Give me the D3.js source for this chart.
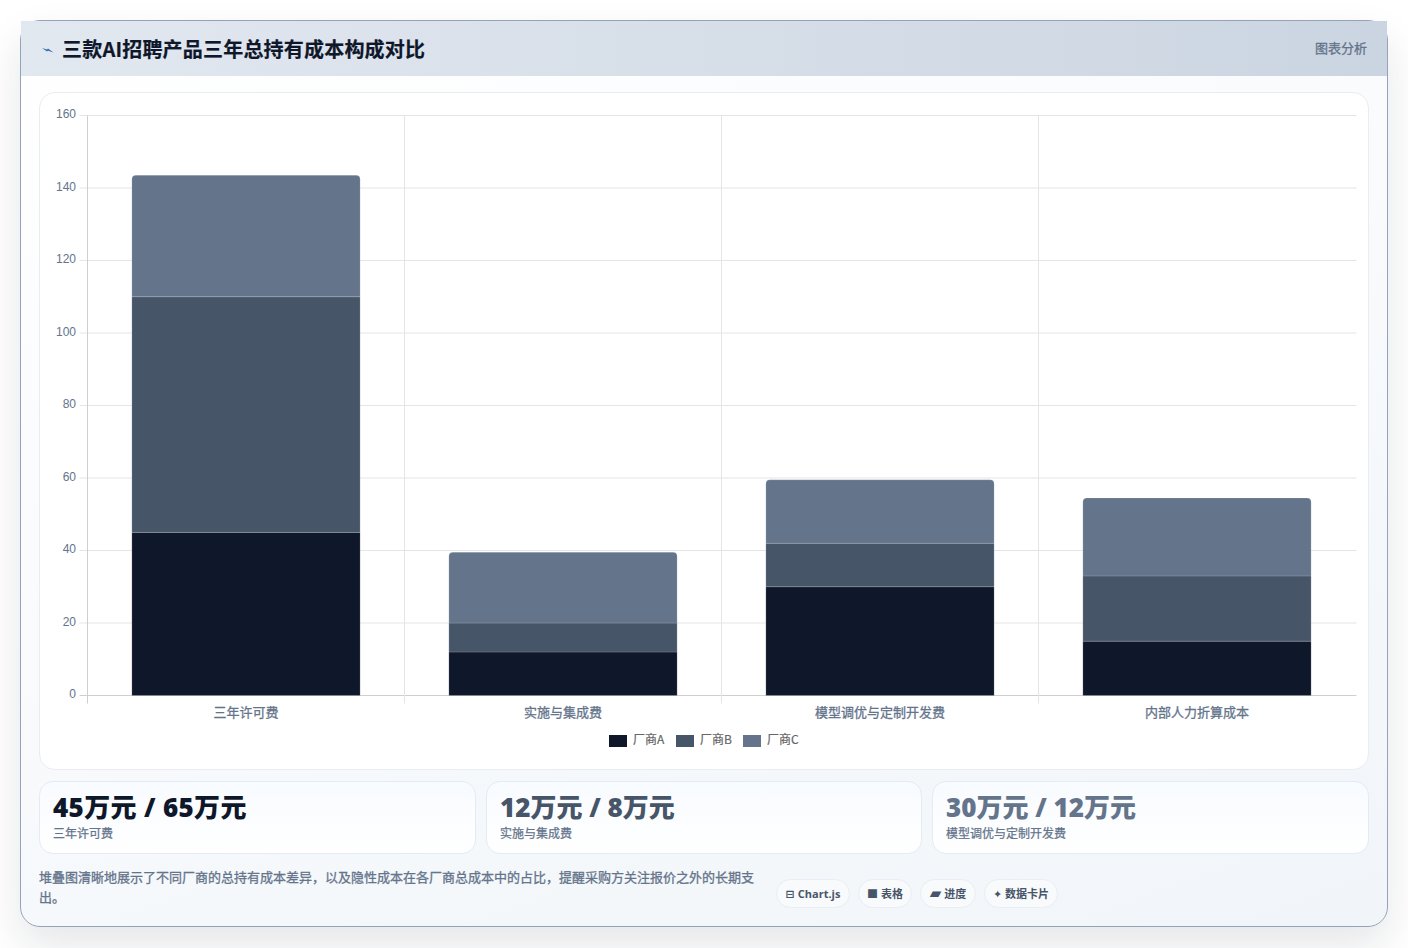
<!DOCTYPE html>
<html lang="zh-CN">
<head>
<meta charset="utf-8">
<title>三款AI招聘产品三年总持有成本构成对比</title>
<script src="https://cdn.jsdelivr.net/npm/d3@7/dist/d3.min.js"></script>
<style>
  * { box-sizing: border-box; margin: 0; padding: 0; }
  html, body { width: 1408px; height: 948px; overflow: hidden; background: #fff;
    font-family: "Noto Sans CJK SC", "DejaVu Sans", sans-serif; }
  #card { position: absolute; left: 20px; top: 20px; width: 1368px; height: 907px;
    border: 1px solid #94a3b8; border-radius: 20px;
    background: linear-gradient(160deg, #ffffff 0%, #f1f5f9 100%);
    box-shadow: 0 18px 40px rgba(15,23,42,0.11); }
  #head { position: absolute; left: 0; top: 0; width: 1366px; height: 55px;
    background: linear-gradient(90deg, #e2e8f0 0%, #cbd5e1 100%); }
  #title { position: absolute; left: 41px; top: 13px; font-size: 20px; line-height: 30px;
    font-weight: 700; letter-spacing: 0.2px; color: #0f172a; white-space: nowrap; -webkit-text-stroke: 0.2px #0f172a; }
  #spark { position: absolute; left: 21px; top: 27px; }
  #tag { position: absolute; right: 20px; top: 17px; font-size: 13px; line-height: 20px;
    color: #64748b; -webkit-text-stroke: 0.3px #64748b; }
  #panel { position: absolute; left: 18px; top: 71px; width: 1330px; height: 678px; background: #fff;
    border: 1px solid #e8edf3; border-radius: 16px; }
  .stat { position: absolute; top: 760px; height: 73px; background: linear-gradient(180deg,#f8fbff,#ffffff);
    border: 1px solid #e3ebf6; border-radius: 14px; }
  .stat b { position: absolute; left: 13px; top: 7px; font-size: 26px; line-height: 36px; font-weight: 800;
    font-family: "Open Sans", "Noto Sans CJK SC", sans-serif; white-space: nowrap; }
  .stat span { position: absolute; left: 13px; top: 42px; font-size: 12px; line-height: 18px; color: #64748b;
    -webkit-text-stroke: 0.25px #64748b; }
  #note { position: absolute; left: 18px; top: 846px; width: 722px; font-size: 13px; line-height: 20px;
    color: #64748b; -webkit-text-stroke: 0.3px #64748b; }
  .pill { position: absolute; top: 858px; height: 29px; border: 1px solid #e8eef5; border-radius: 14.5px;
    background: #f8fafc; font-size: 11px; line-height: 27px; font-weight: 600; color: #334155;
    text-align: center; white-space: nowrap; }
  .pill i { font-style: normal; line-height: 1; margin-right: 3px; color: #475569; }
  .pill em { font-style: normal; font-family: "Open Sans", "Noto Sans CJK SC", sans-serif; font-weight: 700; color: #475569; }
  svg text { font-family: "Liberation Sans", "Noto Sans CJK SC", sans-serif; }
</style>
</head>
<body>
<div id="card">
  <div id="head"></div>
  <svg id="spark" width="12" height="5" viewBox="0 0 12 5"><path d="M0 0 L5 1.5 L6 .5 L11.5 4.5 L6 2.7 L5 3.5 Z" fill="#3b6fb5"/></svg>
  <div id="title"></div>
  <div id="tag">图表分析</div>
  <div id="panel"></div>
  <div id="stats"></div>
  <div id="note"></div>
  <div id="pills"></div>
</div>
<svg id="chart" width="1408" height="948" style="position:absolute;left:0;top:0"></svg>
<script>
// Cost categories and vendor figures, in units of 万元
const categories = ["三年许可费", "实施与集成费", "模型调优与定制开发费", "内部人力折算成本"];
const vendors = ["厂商A", "厂商B", "厂商C"];
const vendorA = [45, 12, 30, 15];
const vendorB = [65, 8, 12, 18];
const vendorC = [33.5, 19.5, 17.5, 21.5];
const vendorColors = ["#0f172a", "#475569", "#64748b"];
const yTicks = [0, 20, 40, 60, 80, 100, 120, 140, 160];

const titleText = "三款AI招聘产品三年总持有成本构成对比";
const noteText = "堆叠图清晰地展示了不同厂商的总持有成本差异，以及隐性成本在各厂商总成本中的占比，提醒采购方关注报价之外的长期支出。";
const statValues = ["45万元 / 65万元", "12万元 / 8万元", "30万元 / 12万元"];
const statLabels = ["三年许可费", "实施与集成费", "模型调优与定制开发费"];
const statColors = ["#0f172a", "#475569", "#64748b"];
const pillIcons = ["⊟", "■", "▰", "✦"];
const pillLabels = ["Chart.js", "表格", "进度", "数据卡片"];

d3.select("#title").text(titleText);
d3.select("#note").text(noteText);

// Summary cards under the chart
const statLeft = [18, 465, 911];
const statWidth = [437, 436, 437];
const statTracking = [0.35, 0, 0];
const stats = d3.select("#stats").selectAll("div").data(statValues).join("div")
  .attr("class", "stat")
  .style("left", (d, i) => statLeft[i] + "px")
  .style("width", (d, i) => statWidth[i] + "px");
stats.append("b").text(d => d)
  .style("color", (d, i) => statColors[i])
  .style("letter-spacing", (d, i) => statTracking[i] + "px");
stats.append("span").text((d, i) => statLabels[i]);

// Technology pills in the footer
const pillLeft = [755, 837, 899, 963];
const pillWidth = [74, 54, 56, 74];
const pillIconSize = [11, 11, 15, 11];
const pills = d3.select("#pills").selectAll("div").data(pillLabels).join("div")
  .attr("class", "pill")
  .style("left", (d, i) => pillLeft[i] + "px")
  .style("width", (d, i) => pillWidth[i] + "px");
pills.append("i").text((d, i) => pillIcons[i])
  .style("font-size", (d, i) => pillIconSize[i] + "px");
pills.append("em").text(d => d);

// Stacked bar chart
const svg = d3.select("#chart");
const plot = { left: 87.5, right: 1355.5, top: 115.5, bottom: 695.5 };

const x = d3.scaleBand().domain(categories).range([plot.left, plot.right]);
const y = d3.scaleLinear().domain([0, 160]).range([plot.bottom, plot.top]);
const barWidth = x.bandwidth() * 0.72;

const rows = categories.map((c, i) => ({ category: c, A: vendorA[i], B: vendorB[i], C: vendorC[i] }));
const stacked = d3.stack().keys(["A", "B", "C"])(rows);

// Grid lines
const grid = svg.append("g");
grid.selectAll("line.h").data(yTicks).join("line")
  .attr("class", "h")
  .attr("x1", plot.left - 8).attr("x2", plot.right + 1)
  .attr("y1", d => y(d)).attr("y2", d => y(d))
  .attr("stroke", d => d === 0 ? "#cfcfcf" : "#e5e5e5");
const edges = d3.range(categories.length);
grid.selectAll("line.v").data(edges).join("line")
  .attr("class", "v")
  .attr("x1", i => plot.left + i * x.step()).attr("x2", i => plot.left + i * x.step())
  .attr("y1", plot.top).attr("y2", plot.bottom + 8)
  .attr("stroke", i => i === 0 ? "#cfcfcf" : "#e5e5e5");

// Y axis labels
svg.append("g").selectAll("text").data(yTicks).join("text")
  .attr("x", 76).attr("y", d => y(d) - 1.4).attr("dy", "0.35em")
  .attr("text-anchor", "end")
  .attr("font-size", 12).attr("fill", "#64748b")
  .text(d => d);

// Bars, with rounded top corners on the uppermost segment
function barPath(d, isTop) {
  const x0 = x(d.data.category) + (x.bandwidth() - barWidth) / 2;
  const x1 = x0 + barWidth;
  const yb = y(d[0]);
  const yt = y(d[1]);
  const r = isTop ? 4 : 0;
  const p = d3.path();
  p.moveTo(x0, yb);
  p.lineTo(x0, yt + r);
  if (r) p.quadraticCurveTo(x0, yt, x0 + r, yt);
  p.lineTo(x1 - r, yt);
  if (r) p.quadraticCurveTo(x1, yt, x1, yt + r);
  p.lineTo(x1, yb);
  p.closePath();
  return p.toString();
}
svg.append("g").selectAll("g").data(stacked).join("g")
  .attr("fill", (s, i) => vendorColors[i])
  .selectAll("path").data(s => s.map(d => ({ d, top: s.index === 2 }))).join("path")
  .attr("d", o => barPath(o.d, o.top))
  .attr("stroke", "#ffffff").attr("stroke-opacity", 0.15).attr("stroke-width", 1);

// Category labels
svg.append("g").selectAll("text").data(categories).join("text")
  .attr("x", d => x(d) + x.bandwidth() / 2).attr("y", 717)
  .attr("text-anchor", "middle")
  .attr("font-size", 13).attr("fill", "#64748b")
  .attr("stroke", "#64748b").attr("stroke-width", 0.3)
  .style("font-family", '"Noto Sans CJK SC", sans-serif')
  .text(d => d);

// Legend
const legendX = [609, 676, 743];
const legend = svg.append("g").selectAll("g").data(vendors).join("g")
  .attr("transform", (d, i) => `translate(${legendX[i]},735)`);
legend.append("rect").attr("width", 18).attr("height", 12)
  .attr("fill", (d, i) => vendorColors[i]);
legend.append("text").attr("x", 24).attr("y", 8.5)
  .attr("font-size", 12).attr("fill", "#666666")
  .attr("stroke", "#666666").attr("stroke-width", 0.2)
  .style("font-family", '"Noto Sans CJK SC", sans-serif')
  .text(d => d);
</script>
</body>
</html>
